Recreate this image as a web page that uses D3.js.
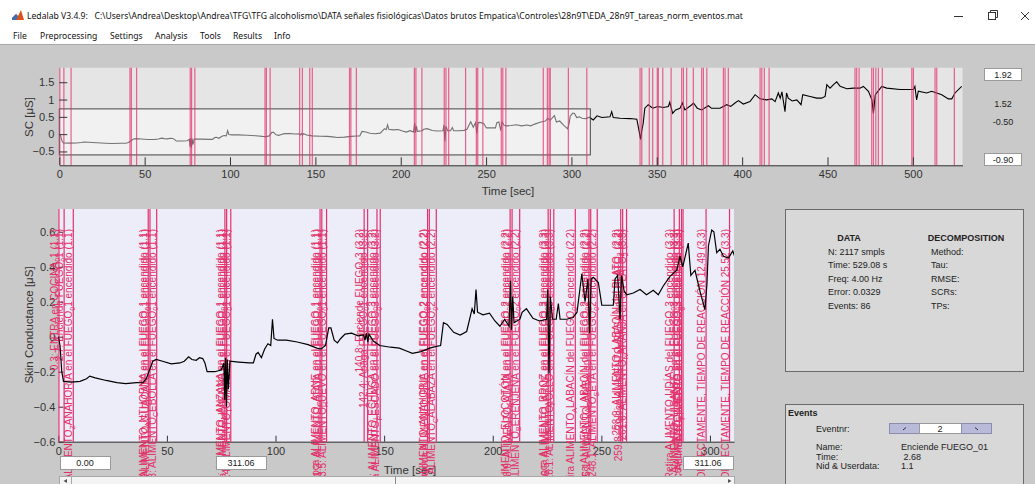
<!DOCTYPE html>
<html>
<head>
<meta charset="utf-8">
<script src="https://cdn.jsdelivr.net/npm/d3@7"></script>
<style>
  body { margin: 0; background: #c9c9c9; overflow: hidden; }
  text { font-family: "Liberation Sans", Arial, sans-serif; }
  .win-text { font-family: "Noto Sans", "Open Sans", sans-serif; fill: #111; }
  .tick text { font-size: 11px; fill: #333; }
  .tick line { stroke: #333; }
  .domain { stroke: #333; }
  .ev-line-top { stroke: #e4336f; stroke-width: 1.2; opacity: 0.75; }
  .ev-line { stroke: #e3306b; stroke-width: 1.2; }
  .ev-label { font-size: 10px; fill: #e3306b; }
  .panel-text { font-size: 9px; fill: #222; }
  .edit-box { fill: #fff; stroke: #9a9a9a; }
</style>
</head>
<body>
<svg id="app" width="1035" height="484"></svg>
<script>
// ---------- DATA ----------
const scTime = [0, 0.8, 1.6, 2.4, 6, 10, 13, 14.5, 17, 22, 27, 31, 36, 39, 40.5, 42, 43.5, 45, 48, 52, 56, 58, 60, 61.5, 63.5, 65, 66.5, 67.5, 68.5, 72, 75, 76.2, 76.6, 77.0, 77.4, 77.8, 78.3, 79, 83, 88, 89.8, 91, 92, 93.5, 95, 96.5, 97.8, 98.6, 99.3, 101, 105, 110, 115, 119, 121, 123, 124.5, 125.5, 127, 128.5, 130, 132, 135, 138, 140.5, 141.2, 141.8, 142.5, 143, 145, 148, 153, 157, 160, 163, 167, 171, 174, 176, 177.3, 179, 182, 185, 188, 190.5, 191.5, 192.3, 193, 195.5, 198.5, 201, 203.3, 205.5, 207.5, 208.2, 208.6, 209.2, 209.8, 212.5, 213.5, 215.5, 218.5, 221.5, 224.8, 225.3, 225.9, 226.5, 227.5, 229.2, 230.2, 231, 234, 237, 238.8, 241, 242.5, 243.8, 244.6, 245.3, 246.3, 248.6, 250.2, 255.5, 256.3, 257.5, 258.6, 259.3, 260.5, 261.7, 264.7, 267.8, 270.8, 273.9, 276.2, 278.5, 281.6, 284.7, 286.2, 287.5, 290, 291.2, 293.1, 295.4, 297.7, 298.6, 299.3, 300.8, 301.8, 303.1, 304.6, 306.2, 308.5, 310.5, 312.8, 315, 317.8, 322.6, 323.6, 324.5, 328.5, 334.3, 338.3, 339.7, 340.5, 341.2, 342, 343, 345, 347.6, 350.5, 353.8, 356.8, 357.6, 359.3, 361, 363.6, 365, 366.5, 370.5, 371.5, 373.7, 376.3, 380.2, 382, 387, 391, 393.3, 395.8, 397.8, 400.7, 404.6, 407.6, 410.5, 414.4, 417.4, 419.3, 421.2, 422.3, 423.3, 424.2, 425.1, 426, 427, 429.3, 432, 434.5, 435.5, 439.8, 443.7, 446.6, 448.6, 449.6, 451.5, 453.5, 455.4, 457.4, 461.3, 465.2, 469, 471, 474, 476, 476.9, 478, 481.8, 484.7, 492.5, 500.3, 501.2, 502.2, 503.2, 508.1, 511, 514, 516.9, 520.8, 522.8, 524.7, 528.6];
const scValue = [0.0, -0.05, -0.2, -0.255, -0.26, -0.255, -0.24, -0.225, -0.235, -0.25, -0.262, -0.268, -0.262, -0.263, -0.24, -0.19, -0.14, -0.13, -0.14, -0.155, -0.15, -0.14, -0.115, -0.13, -0.135, -0.12, -0.125, -0.15, -0.2, -0.2, -0.19, -0.15, -0.36, -0.12, -0.4, -0.13, -0.3, -0.14, -0.145, -0.15, -0.15, -0.1, -0.09, -0.12, -0.07, -0.04, -0.05, 0.1, -0.01, -0.02, -0.02, -0.03, -0.045, -0.065, -0.07, -0.05, 0.05, 0.05, -0.02, -0.035, -0.01, 0.015, 0.02, 0.005, 0.01, -0.02, 0.02, -0.03, 0.015, -0.025, -0.05, -0.06, -0.065, -0.08, -0.095, -0.085, -0.065, -0.055, -0.05, 0.08, 0.07, 0.025, 0.01, 0.03, 0.16, 0.13, 0.27, 0.14, 0.125, 0.135, 0.09, 0.06, 0.1, 0.06, 0.32, 0.04, 0.23, 0.08, 0.1, 0.14, 0.16, 0.105, 0.09, 0.1, 0.27, -0.21, 0.23, 0.1, 0.1, 0.19, 0.1, 0.1, 0.11, 0.14, 0.36, 0.2, 0.33, 0.02, 0.33, 0.34, 0.31, 0.18, 0.18, 0.33, 0.35, 0.1, 0.35, 0.26, 0.24, 0.25, 0.27, 0.24, 0.265, 0.24, 0.29, 0.345, 0.38, 0.46, 0.4, 0.535, 0.35, 0.38, 0.26, 0.155, 0.3, 0.52, 0.61, 0.6, 0.48, 0.5, 0.46, 0.45, 0.49, 0.41, 0.53, 0.48, 0.5, 0.65, 0.48, 0.46, 0.45, 0.43, 0.07, -0.15, 0.1, 0.3, 0.75, 0.85, 0.75, 0.8, 0.77, 0.8, 0.92, 0.6, 0.7, 0.75, 0.9, 0.7, 0.85, 0.9, 0.75, 0.7, 0.82, 0.75, 0.75, 0.85, 0.8, 0.9, 0.97, 0.87, 0.94, 1.14, 1.02, 0.99, 1.02, 0.94, 1.19, 1.04, 1.22, 0.94, 0.65, 1.19, 1.04, 0.96, 0.99, 0.85, 1.14, 1.09, 1.04, 1.04, 1.09, 1.43, 1.33, 1.43, 1.51, 1.38, 1.31, 1.33, 1.33, 1.38, 1.24, 0.99, 0.6, 1.14, 1.38, 1.33, 1.29, 1.29, 1.38, 0.99, 1.24, 1.19, 1.24, 1.19, 1.14, 1.02, 1.02, 1.19, 1.38];

const evTime = [0.3, 2.68, 6.9, 41.4, 42.2, 45.3, 76.7, 77.5, 79.4, 120.5, 121.3, 123.5, 140.8, 142.4, 146.7, 148.2, 170.0, 170.8, 174.0, 208.0, 208.9, 212.4, 225.5, 226.5, 228.1, 238.0, 244.3, 245.1, 248.1, 258.9, 259.8, 261.6, 283.5, 285.9, 286.9, 287.6, 298.2, 309.0, 340.2, 341.2, 345.6, 347.6, 350.3, 350.9, 353.5, 358.4, 364.6, 365.6, 367.5, 371.4, 376.3, 377.3, 379.3, 389.0, 390.0, 391.9, 410.5, 411.5, 413.0, 415.8, 466.1, 467.1, 468.5, 475.9, 476.9, 478.3, 479.8, 482.1, 499.4, 500.3, 513.0, 514.0, 524.3];
const evName = [
  "ENTRA en COCINA_01", "Enciende FUEGO_01", "ALIMENTO_ZANAHORIA en el FUEGO_01 encendido",
  "ALIMENTO_ANTHORNA en el FUEGO_01 encendido", "Coloca ALIMENTO_AGUACATE en el FUEGO_01 encendido", "ALIMENTO_CEBOLLA en el FUEGO_01 encendido",
  "ALIMENTO_MANZANA en el FUEGO_01 encendido", "Coloca ALIMENTO_PIMIENTO en el FUEGO_01 encendido", "ALIMENTO_TOMATE en el FUEGO_01 encendido",
  "Coloca ALIMENTO_CARNE en el FUEGO_01 encendido", "ALIMENTO_PATATA en el FUEGO_01 encendido", "ALIMENTO_HUEVO en el FUEGO_01 encendido",
  "Enciende FUEGO_03", "Apaga FUEGO_01 encendido", "ALIMENTO_LECHUGA en el FUEGO_03 encendido", "Coloca ALIMENTO_PESCADO en el FUEGO_03 encendido",
  "Coloca ALIMENTO_ZANAHORIA en el FUEGO_02 encendido", "Coloca ALIMENTO_ARNE en el FUEGO_02 encendido", "ALIMENTO_CALABAZA en el FUEGO_02 encendido",
  "Coloca ALIMENTO_MELOCOTÓN en el FUEGO_02 encendido", "ALIMENTO_PATATA en el FUEGO_02 encendido", "ALIMENTO_BERENJENA en el FUEGO_02 encendido",
  "Coloca ALIMENTO_ARROZ en el FUEGO_03 encendido", "ALIMENTO_CARNE en el FUEGO_03 encendido", "ALIMENTO_POLLO en el FUEGO_03 encendido",
  "Retira ALIMENTO_ALABACÍN del FUEGO_02 encendido",
  "Coloca ALIMENTO_ALABACÍN del FUEGO_02 encendido", "ALIMENTO_GAMBA en el FUEGO_02 encendido", "ALIMENTO_SETA en el FUEGO_02 encendido",
  "ALIMENTO_ALABACÍN del PLATO_2", "Coloca ALIMENTO_FRESA en el PLATO_2", "ALIMENTO_NARANJA en el PLATO_2",
  "Retira ALIMENTO_JUDÍAS del FUEGO_03 encendido", "ALIMENTO_GUISANTE en el FUEGO_03 encendido", "Coloca ALIMENTO_PUERRO en el FUEGO_03 encendido", "ALIMENTO_PIMIENTO en el FUEGO_03 encendido",
  "Apaga FUEGO_03 CORRECTAMENTE, TIEMPO DE REACCIÓN 12.49", "Apaga FUEGO_02 CORRECTAMENTE, TIEMPO DE REACCIÓN 25.52",
  "Enciende FUEGO_02", "Enciende FUEGO_03", "ALIMENTO_CEBOLLA en el FUEGO_02", "ALIMENTO_PIMIENTO en el FUEGO_02",
  "ALIMENTO_ARROZ en el FUEGO_03", "ALIMENTO_POLLO en el FUEGO_03", "ALIMENTO_TOMATE en el FUEGO_02", "Retira ALIMENTO_CEBOLLA",
  "ALIMENTO_CARNE en el FUEGO_01", "ALIMENTO_PATATA en el FUEGO_01", "ALIMENTO_HUEVO en el FUEGO_01", "Retira ALIMENTO_ARROZ",
  "ALIMENTO_SETA en el FUEGO_02", "ALIMENTO_GAMBA en el FUEGO_02", "Retira ALIMENTO_SETA", "ALIMENTO_FRESA en el PLATO_1",
  "ALIMENTO_NARANJA en el PLATO_1", "Retira ALIMENTO_FRESA", "Apaga FUEGO_01", "Apaga FUEGO_02", "Apaga FUEGO_03", "Fin TAREA_1",
  "Enciende FUEGO_01", "Enciende FUEGO_02", "ALIMENTO_PUERRO en el FUEGO_01", "ALIMENTO_JUDÍAS en el FUEGO_02",
  "ALIMENTO_GUISANTE en el FUEGO_02", "Retira ALIMENTO_PUERRO", "Retira ALIMENTO_JUDÍAS", "Retira ALIMENTO_GUISANTE",
  "Apaga FUEGO_01", "Apaga FUEGO_02", "ALIMENTO_PESCADO en el PLATO_3", "Retira ALIMENTO_PESCADO", "Fin TAREA_2"
];
const evData = ["1.1", "1.1", "1.1", "1.1", "1.1", "1.1", "1.1", "1.1", "1.1", "1.1", "1.1", "1.1", "3.2", "3.2", "3.2", "3.2", "2.2", "2.2", "2.2", "2.2", "2.2", "2.2", "3.3", "3.3", "3.3", "2.2", "2.2", "2.2", "2.2", "2.2", "2.2", "3.3", "3.3", "3.3", "3.3", "3.3", "3.3", "3.3", "2.1", "3.1", "2.2", "2.2", "3.2", "3.2", "2.2", "2.3", "1.2", "1.2", "1.2", "3.3", "2.3", "2.3", "2.3", "1.3", "1.3", "1.3", "1.3", "2.3", "3.3", "1.3", "1.1", "2.1", "1.2", "2.2", "2.2", "1.3", "2.3", "2.3", "1.3", "2.3", "3.2", "3.3", "3.3"];

const topTicksX = [0, 50, 100, 150, 200, 250, 300, 350, 400, 450, 500];
const topTicksY = [1.5, 1, 0.5, 0, -0.5];
const zoomTicksX = [0, 50, 100, 150, 200, 250, 300];
const zoomTicksY = [0.6, 0.4, 0.2, 0, -0.2, -0.4, -0.6];
const menuItems = ["File", "Preprocessing", "Settings", "Analysis", "Tools", "Results", "Info"];
const dataInfo = ["N: 2117 smpls", "Time: 529.08 s", "Freq: 4.00 Hz", "Error: 0.0329", "Events: 86"];
const decompInfo = ["Method:", "Tau:", "RMSE:", "SCRs:", "TPs:"];
const eventFields = ["Name:", "Time:", "Nid & Userdata:"];
const eventValues = ["Enciende FUEGO_01", " 2.68", "1.1"];
const titleText = "Ledalab V3.4.9:   C:\\Users\\Andrea\\Desktop\\Andrea\\TFG\\TFG alcoholismo\\DATA señales fisiológicas\\Datos brutos Empatica\\Controles\\28n9T\\EDA_28n9T_tareas_norm_eventos.mat";

// ---------- LAYOUT ----------
const W = 1035, H = 484;
const TOP = { LEFT: 59.3, RIGHT: 962.5, TOP: 67.7, BOTTOM: 165.3 };
const BOT = { LEFT: 58.3, RIGHT: 734, TOP: 209, BOTTOM: 441.7 };
const WINDOW = { T0: 0, T1: 311.06, V0: -0.6, V1: 0.73 };

const svg = d3.select("#app");

const points = scTime.map((t, i) => ({ t: t, v: scValue[i] }));
const events = evTime.map((t, i) => ({ t: t, name: evName[i], ud: evData[i] }));

// SCALES
const xTop = d3.scaleLinear().domain([0, 529.08]).range([TOP.LEFT, TOP.RIGHT]);
const yTop = d3.scaleLinear().domain([-0.90, 1.92]).range([TOP.BOTTOM, TOP.TOP]);
const xBot = d3.scaleLinear().domain([WINDOW.T0, WINDOW.T1]).range([BOT.LEFT, BOT.RIGHT]);
const yBot = d3.scaleLinear().domain([WINDOW.V0, WINDOW.V1]).range([BOT.BOTTOM, BOT.TOP]);

drawWindowFrame();
drawOverview();
drawZoomPlot();
drawInfoPanel();
drawEventsPanel();

function drawWindowFrame() {
  svg.append("rect").attr("width", W).attr("height", H).attr("fill", "#c9c9c9");
  svg.append("rect").attr("width", W).attr("height", 44).attr("fill", "#ffffff");
  svg.append("line").attr("x1", 0).attr("x2", W).attr("y1", 44.5).attr("y2", 44.5).attr("stroke", "#a8a8a8");

  // little app icon
  const icon = svg.append("g").attr("transform", "translate(12,10)");
  icon.append("path").attr("d", "M0,8 L4,4 L6,6 L9,0 L12,10 L0,10 Z").attr("fill", "#d9541e");
  icon.append("path").attr("d", "M0,8 L4,4 L6,6 L4,10 L0,10 Z").attr("fill", "#3c6eb4");

  svg.append("text").attr("class", "win-text").attr("x", 27).attr("y", 18.5)
    .attr("font-size", 8.6).attr("xml:space", "preserve").text(titleText);

  const menuX = [13, 40, 110, 155, 200, 233, 274];
  svg.selectAll(".menu").data(menuItems).join("text")
    .attr("class", "win-text menu").attr("x", (d, i) => menuX[i]).attr("y", 38.5)
    .attr("font-size", 8.6).text(d => d);

  // window buttons
  svg.append("line").attr("x1", 954).attr("x2", 963).attr("y1", 16.5).attr("y2", 16.5).attr("stroke", "#333");
  svg.append("rect").attr("x", 988.5).attr("y", 12.5).attr("width", 7).attr("height", 7).attr("fill", "none").attr("stroke", "#333");
  svg.append("path").attr("d", "M990.5,12.5 V10.5 H997.5 V17.5 H995.5").attr("fill", "none").attr("stroke", "#333");
  svg.append("path").attr("d", "M1021,12 L1029,20 M1029,12 L1021,20").attr("stroke", "#333");
}

function drawOverview() {
  const g = svg.append("g");
  g.append("rect").attr("x", TOP.LEFT).attr("y", TOP.TOP)
    .attr("width", TOP.RIGHT - TOP.LEFT).attr("height", TOP.BOTTOM - TOP.TOP).attr("fill", "#e5e5e5");

  const line = d3.line().x(d => xTop(d.t)).y(d => yTop(d.v));
  g.append("path").attr("d", line(points)).attr("fill", "none").attr("stroke", "#000").attr("stroke-width", 1.1);

  // zoom window box
  g.append("rect").attr("x", xTop(WINDOW.T0)).attr("y", yTop(WINDOW.V1))
    .attr("width", xTop(WINDOW.T1) - xTop(WINDOW.T0)).attr("height", yTop(WINDOW.V0) - yTop(WINDOW.V1))
    .attr("fill", "#ffffff").attr("fill-opacity", 0.45).attr("stroke", "#444").attr("stroke-width", 1);

  g.selectAll(".ev-line-top").data(events).join("line")
    .attr("class", "ev-line-top")
    .attr("x1", d => xTop(d.t)).attr("x2", d => xTop(d.t))
    .attr("y1", TOP.TOP).attr("y2", TOP.BOTTOM);

  g.append("g").attr("transform", `translate(0,${TOP.BOTTOM})`)
    .call(d3.axisBottom(xTop).tickValues(topTicksX).tickSize(-8).tickSizeOuter(0).tickPadding(5));
  const gy = g.append("g").attr("transform", `translate(${TOP.LEFT},0)`)
    .call(d3.axisLeft(yTop).tickValues(topTicksY).tickSize(-8).tickSizeOuter(0).tickPadding(5).tickFormat(d3.format("")));
  gy.select(".domain").remove();

  svg.append("text").attr("x", 508).attr("y", 195).attr("text-anchor", "middle")
    .attr("font-size", 11.5).attr("fill", "#333").text("Time [sec]");
  svg.append("text").attr("transform", "translate(33,117) rotate(-90)").attr("text-anchor", "middle")
    .attr("font-size", 11.5).attr("fill", "#333").text("SC [μS]");

  // range boxes on the right
  const rb = svg.append("g");
  rb.append("rect").attr("class", "edit-box").attr("x", 984.5).attr("y", 68.5).attr("width", 37).attr("height", 12);
  rb.append("text").attr("class", "panel-text").attr("x", 1003).attr("y", 77.5).attr("text-anchor", "middle").text("1.92");
  rb.append("text").attr("class", "panel-text").attr("x", 1003).attr("y", 107).attr("text-anchor", "middle").text("1.52");
  rb.append("text").attr("class", "panel-text").attr("x", 1003).attr("y", 125).attr("text-anchor", "middle").text("-0.50");
  rb.append("rect").attr("class", "edit-box").attr("x", 984.5).attr("y", 153.5).attr("width", 37).attr("height", 12);
  rb.append("text").attr("class", "panel-text").attr("x", 1003).attr("y", 162.5).attr("text-anchor", "middle").text("-0.90");
}

// TeX style subscripts: "_X" puts the next character low and small
function setTexLabel(sel, str) {
  const parts = str.split("_");
  sel.append("tspan").text(parts[0]);
  parts.slice(1).forEach(p => {
    sel.append("tspan").attr("dy", 2.5).attr("font-size", 7).text(p.charAt(0));
    sel.append("tspan").attr("dy", -2.5).text(p.slice(1));
  });
}

function drawZoomPlot() {
  const g = svg.append("g");
  g.append("rect").attr("x", BOT.LEFT).attr("y", BOT.TOP)
    .attr("width", BOT.RIGHT - BOT.LEFT).attr("height", BOT.BOTTOM - BOT.TOP).attr("fill", "#ededf9");

  const gx = g.append("g").attr("transform", `translate(0,${BOT.BOTTOM})`)
    .call(d3.axisBottom(xBot).tickValues(zoomTicksX).tickSize(-6).tickSizeOuter(0).tickPadding(6));
  gx.select(".domain").attr("stroke", "#777");
  const gy = g.append("g").attr("transform", `translate(${BOT.LEFT},0)`)
    .call(d3.axisLeft(yBot).tickValues(zoomTicksY).tickSize(-5).tickSizeOuter(0).tickPadding(3).tickFormat(d3.format("")));
  gy.select(".domain").remove();

  g.append("text").attr("x", 410).attr("y", 474).attr("text-anchor", "middle")
    .attr("font-size", 11.5).attr("fill", "#333").text("Time [sec]");
  g.append("text").attr("transform", "translate(33,325) rotate(-90)").attr("text-anchor", "middle")
    .attr("font-size", 11.5).attr("fill", "#333").text("Skin Conductance [μS]");

  const inView = events.filter(d => d.t <= WINDOW.T1);
  g.selectAll(".ev-line").data(inView).join("line")
    .attr("class", "ev-line")
    .attr("x1", d => xBot(d.t)).attr("x2", d => xBot(d.t))
    .attr("y1", BOT.TOP).attr("y2", BOT.BOTTOM);

  // event labels run upward from the window edge and end near the top of the axes
  inView.forEach(d => {
    const x = xBot(d.t) - 1, y = 229;
    const t = g.append("text").attr("class", "ev-label")
      .attr("x", x).attr("y", y).attr("text-anchor", "end")
      .attr("transform", `rotate(-90,${x},${y})`);
    setTexLabel(t, `${d.t.toFixed(1)}: ${d.name} (${d.ud})`);
  });

  svg.append("clipPath").attr("id", "clip-bot").append("rect")
    .attr("x", BOT.LEFT).attr("y", BOT.TOP).attr("width", BOT.RIGHT - BOT.LEFT).attr("height", BOT.BOTTOM - BOT.TOP);
  const line = d3.line().x(d => xBot(d.t)).y(d => yBot(d.v));
  g.append("path").attr("clip-path", "url(#clip-bot)")
    .attr("d", line(points.filter(d => d.t <= WINDOW.T1 + 3)))
    .attr("fill", "none").attr("stroke", "#000").attr("stroke-width", 1.2);

  // edit boxes for the window limits
  const boxes = [{ x: 60, label: "0.00" }, { x: 216, label: "311.06" }, { x: 683, label: "311.06" }];
  boxes.forEach(b => {
    svg.append("rect").attr("class", "edit-box").attr("x", b.x + 0.5).attr("y", 456.5).attr("width", 50).attr("height", 13);
    svg.append("text").attr("class", "panel-text").attr("x", b.x + 25).attr("y", 466).attr("text-anchor", "middle").text(b.label);
  });

  // scrollbar
  svg.append("rect").attr("x", 59.5).attr("y", 476.5).attr("width", 675).attr("height", 12)
    .attr("fill", "#f4f4f4").attr("stroke", "#a8a8a8");
  svg.append("line").attr("x1", 71.5).attr("x2", 71.5).attr("y1", 476.5).attr("y2", 484).attr("stroke", "#a8a8a8");
  svg.append("line").attr("x1", 395.5).attr("x2", 395.5).attr("y1", 476.5).attr("y2", 484).attr("stroke", "#8a8a8a");
  svg.append("path").attr("d", "M67,479 L63.5,481 L67,483 Z").attr("fill", "#555");
  svg.append("path").attr("d", "M728,479 L731.5,481 L728,483 Z").attr("fill", "#555");
}

function drawInfoPanel() {
  const g = svg.append("g");
  g.append("rect").attr("x", 785.5).attr("y", 209.5).attr("width", 238).attr("height", 162)
    .attr("fill", "#d8d8d8").attr("stroke", "#6a6a6a");
  g.append("text").attr("class", "panel-text").attr("x", 849).attr("y", 241).attr("text-anchor", "middle")
    .attr("font-weight", "bold").text("DATA");
  g.append("text").attr("class", "panel-text").attr("x", 966).attr("y", 241).attr("text-anchor", "middle")
    .attr("font-weight", "bold").text("DECOMPOSITION");
  g.selectAll(".data-row").data(dataInfo).join("text")
    .attr("class", "panel-text data-row").attr("x", 828).attr("y", (d, i) => 255 + i * 13.4).text(d => d);
  g.selectAll(".dec-row").data(decompInfo).join("text")
    .attr("class", "panel-text dec-row").attr("x", 931).attr("y", (d, i) => 255 + i * 13.4).text(d => d);
}

function drawEventsPanel() {
  const g = svg.append("g");
  g.append("rect").attr("x", 785.5).attr("y", 404.5).attr("width", 238).attr("height", 100)
    .attr("fill", "#d8d8d8").attr("stroke", "#6a6a6a");
  g.append("text").attr("class", "panel-text").attr("x", 788).attr("y", 415.5)
    .attr("font-weight", "bold").text("Events");
  g.append("text").attr("class", "panel-text").attr("x", 816).attr("y", 432).text("Eventnr:");

  g.append("rect").attr("x", 889.5).attr("y", 423.5).attr("width", 30).attr("height", 10).attr("fill", "#b9b9d9").attr("stroke", "#8c8cae");
  g.append("rect").attr("x", 919.5).attr("y", 423.5).attr("width", 42).attr("height", 10).attr("fill", "#ffffff").attr("stroke", "#9a9a9a");
  g.append("rect").attr("x", 961.5).attr("y", 423.5).attr("width", 30).attr("height", 10).attr("fill", "#b9b9d9").attr("stroke", "#8c8cae");
  g.append("text").attr("class", "panel-text").attr("x", 940).attr("y", 431.5).attr("text-anchor", "middle").text("2");
  g.append("line").attr("x1", 903).attr("x2", 906).attr("y1", 430).attr("y2", 427.5).attr("stroke", "#333");
  g.append("line").attr("x1", 975).attr("x2", 978).attr("y1", 427.5).attr("y2", 430).attr("stroke", "#333");

  g.selectAll(".ev-field").data(eventFields).join("text")
    .attr("class", "panel-text ev-field").attr("x", 816).attr("y", (d, i) => 450 + i * 9.5).text(d => d);
  g.selectAll(".ev-value").data(eventValues).join("text")
    .attr("class", "panel-text ev-value").attr("x", 901).attr("y", (d, i) => 450 + i * 9.5)
    .attr("xml:space", "preserve").text(d => d);
}
</script>
</body>
</html>
